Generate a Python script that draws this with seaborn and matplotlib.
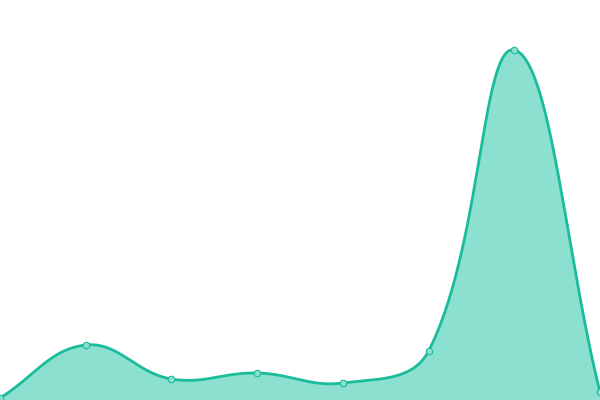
import matplotlib
matplotlib.use("Agg")
import matplotlib.pyplot as plt
import numpy as np
import pandas as pd
import seaborn as sns

# values (plot units = pixels above the bottom)
points = [0, 1, 2, 3, 4, 5, 6, 7]
values = [2, 55, 21, 27, 17, 49, 350, 8]

LINE = "#1abc9c"
FILL = "#8ce0cf"
W, H = 600, 400
TENSION = 0.4


def spline_curve(x, y, steps=60):
    """Chart.js style spline, control points worked out in pixel space."""
    sx = W / (len(x) - 1)
    pts = np.column_stack([np.asarray(x, float) * sx, np.asarray(y, float)])
    n = len(pts)
    before, after = [], []
    for i in range(n):
        prev = pts[i - 1] if i > 0 else pts[i]
        nxt = pts[i + 1] if i < n - 1 else pts[i]
        d01 = np.hypot(*(pts[i] - prev))
        d12 = np.hypot(*(nxt - pts[i]))
        tot = d01 + d12
        fa = TENSION * (d01 / tot if tot else 0)
        fb = TENSION * (d12 / tot if tot else 0)
        before.append(pts[i] - fa * (nxt - prev))
        after.append(pts[i] + fb * (nxt - prev))
    u = np.linspace(0, 1, steps, endpoint=False)[:, None]
    out = []
    for i in range(n - 1):
        p0, c1, c2, p3 = pts[i], after[i], before[i + 1], pts[i + 1]
        out.append((1 - u) ** 3 * p0 + 3 * (1 - u) ** 2 * u * c1 + 3 * (1 - u) * u ** 2 * c2 + u ** 3 * p3)
    out.append(pts[-1:])
    out = np.vstack(out)
    return out[:, 0] / sx, out[:, 1]


def main():
    sns.set_style("white")
    df = pd.DataFrame({"x": points, "y": values})
    cx, cy = spline_curve(df["x"], df["y"])
    curve = pd.DataFrame({"x": cx, "y": cy})

    fig = plt.figure(figsize=(6, 4), dpi=100)
    ax = fig.add_axes([0, 0, 1, 1])
    ax.fill_between(curve["x"], curve["y"], 0, color=FILL, linewidth=0)
    sns.lineplot(data=curve, x="x", y="y", ax=ax, color=LINE, linewidth=2.0,
                 sort=False, estimator=None)
    sns.scatterplot(data=df, x="x", y="y", ax=ax, s=22, color=FILL,
                    edgecolor=LINE, linewidth=0.8, zorder=5, clip_on=False)

    ax.set_xlim(0, 7)
    ax.set_ylim(0, 400)
    ax.axis("off")
    fig.savefig("out.png", dpi=100)


if __name__ == "__main__":
    main()
